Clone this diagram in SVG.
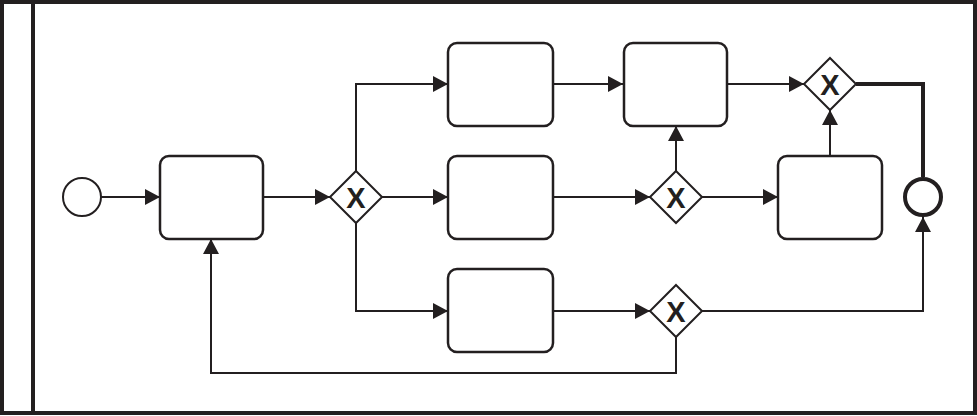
<svg xmlns="http://www.w3.org/2000/svg" width="977" height="416" viewBox="0 0 977 416">
<style>
.pool{fill:none;stroke:#231f20;stroke-width:4}
.task{fill:#fff;stroke:#231f20;stroke-width:2.5}
.gw{fill:#fff;stroke:#231f20;stroke-width:2}
.gx{font-family:"Liberation Sans",Arial,sans-serif;font-size:29px;font-weight:bold;fill:#231f20;text-anchor:middle}
.flow{fill:none;stroke:#231f20;stroke-width:2}
.thick{fill:none;stroke:#231f20;stroke-width:4}
</style>
<defs>
<marker id="arr" markerWidth="15" markerHeight="16" refX="15" refY="8" orient="auto" markerUnits="userSpaceOnUse">
<path d="M0,0 L15,8 L0,16 Z" fill="#231f20"/>
</marker>
</defs>
<g id="pool">
<rect class="pool" x="2" y="2" width="973" height="411"/>
<line class="pool" x1="33" y1="2" x2="33" y2="413"/>
</g>
<g id="connectors">
<path class="flow" d="M101,197 H160" marker-end="url(#arr)"/>
<path class="flow" d="M263,197 H330" marker-end="url(#arr)"/>
<path class="flow" d="M356,171 V84 H448" marker-end="url(#arr)"/>
<path class="flow" d="M382,197 H448" marker-end="url(#arr)"/>
<path class="flow" d="M356,223 V311 H448" marker-end="url(#arr)"/>
<path class="flow" d="M553,84 H623" marker-end="url(#arr)"/>
<path class="flow" d="M727,84 H804" marker-end="url(#arr)"/>
<path class="flow" d="M553,197 H650" marker-end="url(#arr)"/>
<path class="flow" d="M676,171 V126" marker-end="url(#arr)"/>
<path class="flow" d="M702,197 H778" marker-end="url(#arr)"/>
<path class="flow" d="M830,155 V110" marker-end="url(#arr)"/>
<path class="flow" d="M553,311 H650" marker-end="url(#arr)"/>
<path class="flow" d="M702,311 H923 V217" marker-end="url(#arr)"/>
<path class="flow" d="M676,337 V373 H211 V239" marker-end="url(#arr)"/>
<path class="thick" d="M856,84 H923 V177"/>
</g>
<g id="start"><circle cx="82" cy="197" r="19" fill="#fff" stroke="#231f20" stroke-width="2"/></g>
<g id="task1"><rect class="task" x="160" y="156" width="103" height="83" rx="9"/></g>
<g id="gw1"><path class="gw" d="M356,171 L382,197 L356,223 L330,197 Z"/><text class="gx" x="356" y="208">X</text></g>
<g id="taskA"><rect class="task" x="448" y="43" width="105" height="83" rx="9"/></g>
<g id="taskB"><rect class="task" x="624" y="43" width="103" height="83" rx="9"/></g>
<g id="gwTop"><path class="gw" d="M830,58 L856,84 L830,110 L804,84 Z"/><text class="gx" x="830" y="95">X</text></g>
<g id="taskC"><rect class="task" x="448" y="156" width="105" height="83" rx="9"/></g>
<g id="gwMid"><path class="gw" d="M676,171 L702,197 L676,223 L650,197 Z"/><text class="gx" x="676" y="208">X</text></g>
<g id="taskD"><rect class="task" x="778" y="156" width="104" height="83" rx="9"/></g>
<g id="taskE"><rect class="task" x="448" y="269" width="105" height="83" rx="9"/></g>
<g id="gwBot"><path class="gw" d="M676,285 L702,311 L676,337 L650,311 Z"/><text class="gx" x="676" y="322">X</text></g>
<g id="end"><circle cx="923" cy="197" r="18" fill="#fff" stroke="#231f20" stroke-width="4"/></g>
</svg>
